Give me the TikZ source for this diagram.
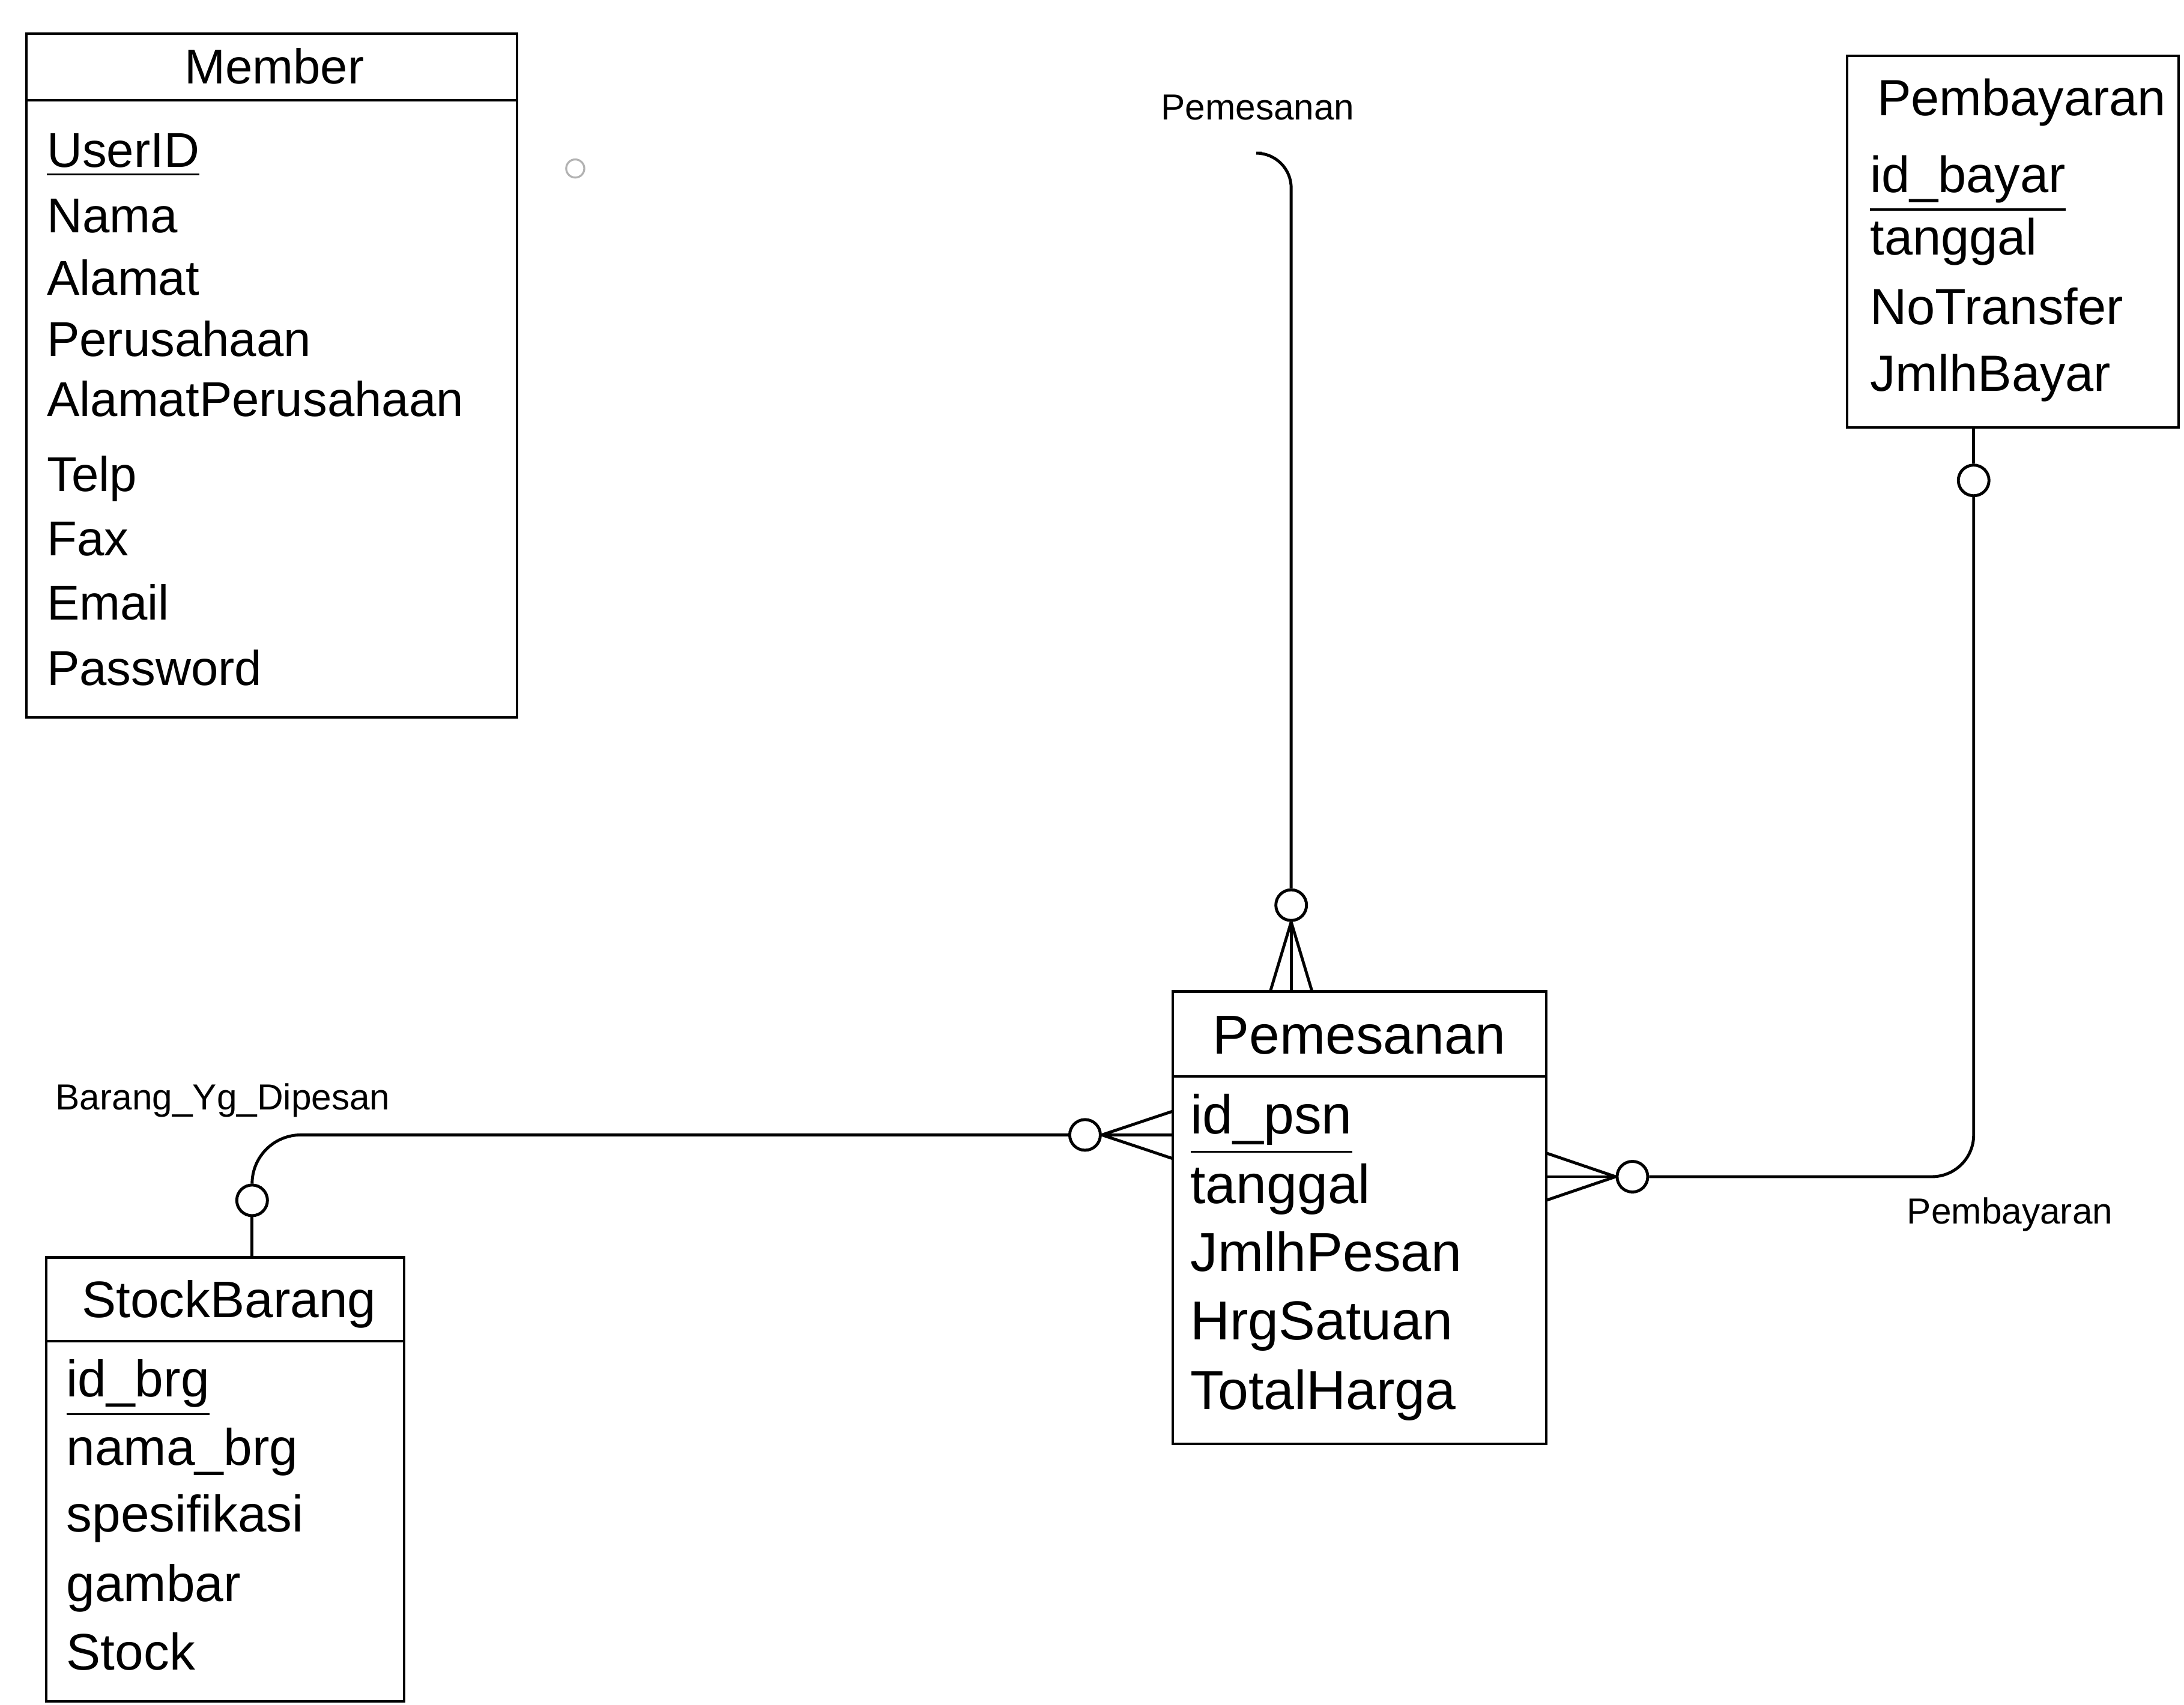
\documentclass[tikz,border=0pt]{standalone}
\usepackage{fontspec}
\setmainfont{Liberation Sans}

\begin{document}
\begin{tikzpicture}[x=0.01cm, y=-0.01cm,
  every node/.style={inner sep=0pt},
  tbl/.style={line width=0.5pt},
  rel/.style={line width=0.6pt},
  optc/.style={circle, draw, line width=0.6pt, fill=white, minimum size=0.22cm},
  memtxt/.style={anchor=base west, font=\fontsize{10}{12}\selectfont},
  psntxt/.style={anchor=base west, font=\fontsize{11.2}{13}\selectfont},
  brgtxt/.style={anchor=base west, font=\fontsize{10.5}{12}\selectfont},
  byrtxt/.style={anchor=base west, font=\fontsize{10.4}{12}\selectfont},
  rlabel/.style={font=\fontsize{7.4}{9}\selectfont}]
  \useasboundingbox (0,0) rectangle (1568,1224);

  % Member
  \draw[tbl] (19,24) rectangle (371,515);
  \draw[tbl] (19,72) -- (371,72);
  \node[memtxt, anchor=base] (memH) at (197,60) {Member};
  \node[memtxt] (m1) at (33,120) {\underline{UserID}};
  \node[memtxt] (m2) at (33,167) {Nama};
  \node[memtxt] (m3) at (33,212) {Alamat};
  \node[memtxt] (m4) at (33,256) {Perusahaan};
  \node[memtxt] (m5) at (33,299) {AlamatPerusahaan};
  \node[memtxt] (m6) at (33,353) {Telp};
  \node[memtxt] (m7) at (33,399) {Fax};
  \node[memtxt] (m8) at (33,445) {Email};
  \node[memtxt] (m9) at (33,492) {Password};
  \node[circle, draw=gray!60, line width=0.4pt, minimum size=0.13cm] (dot) at (413,121) {};

  % Pembayaran
  \draw[tbl] (1326,40) rectangle (1564,307);
  \node[byrtxt] (byrH) at (1347,83) {Pembayaran};
  \node[byrtxt] (b1) at (1342,138) {\underline{id\_bayar}};
  \node[byrtxt] (b2) at (1342,183) {tanggal};
  \node[byrtxt] (b3) at (1342,233) {NoTransfer};
  \node[byrtxt] (b4) at (1342,281) {JmlhBayar};

  % Pemesanan
  \draw[tbl] (842,712) rectangle (1110,1037);
  \draw[tbl] (842,773) -- (1110,773);
  \node[psntxt] (psnH) at (870,757) {Pemesanan};
  \node[psntxt] (p1) at (854,814) {\underline{id\_psn}};
  \node[psntxt] (p2) at (854,864) {tanggal};
  \node[psntxt] (p3) at (854,913) {JmlhPesan};
  \node[psntxt] (p4) at (854,962) {HrgSatuan};
  \node[psntxt] (p5) at (854,1012) {TotalHarga};

  % StockBarang
  \draw[tbl] (33,903) rectangle (290,1222);
  \draw[tbl] (33,963) -- (290,963);
  \node[brgtxt] (brgH) at (58,946) {StockBarang};
  \node[brgtxt] (s1) at (47,1003) {\underline{id\_brg}};
  \node[brgtxt] (s2) at (47,1052) {nama\_brg};
  \node[brgtxt] (s3) at (47,1100) {spesifikasi};
  \node[brgtxt] (s4) at (47,1150) {gambar};
  \node[brgtxt] (s5) at (47,1199) {Stock};

  % relasi
  \node[rlabel] (lPsn) at (903,77) {Pemesanan};
  \node[rlabel] (lBrg) at (160,790) {Barang\_Yg\_Dipesan};
  \node[rlabel] (lByr) at (1443,872) {Pembayaran};

  \coordinate (pTop) at (906,110);
  \coordinate (psnTop) at (927,712);
  \coordinate (psnLeft) at (842,815);
  \coordinate (psnRight) at (1110,845);
  \coordinate (brgTop) at (181,903);
  \coordinate (byrBot) at (1417,307);

  \node[optc] (cPsnT) at (927,650) {};
  \node[optc] (cPsnL) at (779,815) {};
  \node[optc] (cPsnR) at (1172,845) {};
  \node[optc] (cBrg) at (181,862) {};
  \node[optc] (cByr) at (1417,345) {};

  \draw[rel, rounded corners=0.25cm] (cPsnT.north) |- (pTop);
  \draw[rel] (cPsnT.south) -- (psnTop);
  \draw[rel] (cPsnT.south) -- ([xshift=-0.15cm]psnTop);
  \draw[rel] (cPsnT.south) -- ([xshift=0.15cm]psnTop);

  \draw[rel, rounded corners=0.35cm] (cPsnL.west) -| (cBrg.north);
  \draw[rel] (cBrg.south) -- (brgTop);
  \draw[rel] (cPsnL.east) -- (psnLeft);
  \draw[rel] (cPsnL.east) -- ([yshift=0.17cm]psnLeft);
  \draw[rel] (cPsnL.east) -- ([yshift=-0.17cm]psnLeft);

  \draw[rel, rounded corners=0.3cm] (cPsnR.east) -| (cByr.south);
  \draw[rel] (cByr.north) -- (byrBot);
  \draw[rel] (cPsnR.west) -- (psnRight);
  \draw[rel] (cPsnR.west) -- ([yshift=0.17cm]psnRight);
  \draw[rel] (cPsnR.west) -- ([yshift=-0.17cm]psnRight);

\end{tikzpicture}
\end{document}
